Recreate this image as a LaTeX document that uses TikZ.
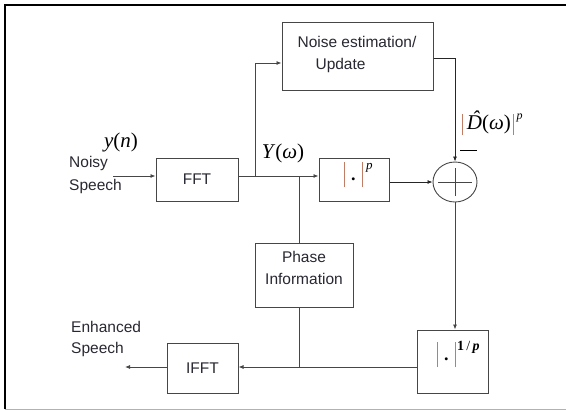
\documentclass[tikz,border=0pt]{standalone}
\usepackage{fontspec}
\setmainfont{Liberation Serif}
\setsansfont{Liberation Sans}
\usetikzlibrary{arrows.meta,shapes.geometric}
\definecolor{ln}{RGB}{70,70,70}
\definecolor{barc}{RGB}{190,125,100}
\definecolor{txt}{RGB}{40,40,50}
\tikzset{
  blk/.style={draw=ln, line width=1pt, fill=white, inner sep=0pt},
  lbl/.style={font=\sffamily\fontsize{15.5}{22}\selectfont, text=txt, inner sep=0pt},
  mth/.style={font=\fontsize{21}{24}\selectfont, text=black, inner sep=0pt},
  wire/.style={draw=ln, line width=0.8pt},
  arr/.style={wire, -{Latex[length=5pt,width=4pt]}},
}
\newcommand{\vbar}{\textcolor{barc}{\rule[-6pt]{0.9pt}{25pt}}}
\newcommand{\mydot}{\raisebox{1pt}{\fontsize{18}{18}\selectfont\textbf{.}}}
\begin{document}
\begin{tikzpicture}[x=1pt,y=-1pt]
\useasboundingbox (0,0) rectangle (566,410);
% frame
\draw[line width=2pt] (5,409) -- (5,5) -- (566,5);
\draw[gray!60, line width=1pt] (5,409) -- (566,409);
% blocks
\node[blk, minimum width=151pt, minimum height=68pt] (noise) at (357.5,56) {};
\node[lbl, align=left] (noisetxt) at (357,54) {Noise estimation/\\\hspace{18pt}Update};
\node[blk, lbl, minimum width=82pt, minimum height=43pt] (fft) at (197,179.5) {FFT};
\node[blk, minimum width=70pt, minimum height=43pt] (pw) at (354,179.5) {};
\node[inner sep=0pt, anchor=base west] (pwtxt) at (343.5,181) {\vbar\hspace{6.5pt}\mydot\hspace{6.5pt}\vbar\hspace{3pt}\raisebox{12pt}{\fontsize{13}{13}\selectfont\textit{p}}};
\node[draw=ln, line width=0.9pt, ellipse, minimum width=44pt, minimum height=40pt, inner sep=0pt] (sum) at (455,182) {};
\draw[ln, line width=0.8pt] ([xshift=-17pt]sum.center) -- ([xshift=17pt]sum.center);
\draw[ln, line width=0.8pt] ([yshift=-14pt]sum.center) -- ([yshift=14pt]sum.center);
\node[blk, minimum width=98pt, minimum height=64pt] (phase) at (304,275) {};
\node[lbl, align=center] (phasetxt) at (304,268) {Phase\\Information};
\node[blk, lbl, minimum width=71pt, minimum height=50pt] (ifft) at (202.5,368) {IFFT};
\node[blk, minimum width=71pt, minimum height=63pt] (inv) at (452.5,361.5) {};
\node[inner sep=0pt, anchor=base west] (invtxt) at (436.5,361) {\vbar\hspace{6.5pt}\mydot\hspace{6.5pt}\vbar\hspace{1pt}\raisebox{11pt}{\fontsize{14}{14}\selectfont\textbf{1}\,/\,\textbf{\textit{p}}}};
% labels
\node[mth] (yn) at (121,142) {\textit{y}(\textit{n})};
\node[lbl, align=left, anchor=west, font=\sffamily\fontsize{15.5}{23}\selectfont] (noisy) at (69,175) {Noisy\\Speech};
\node[mth] (Yw) at (283,153) {\textit{Y}(\textit{ω})};
\node[mth, anchor=west] (Dlbl) at (462,123) {\textcolor{barc}{\rule[-5pt]{0.7pt}{21pt}}\hspace{4pt}\textit{\accent"02C6 D}(\textit{ω})\hspace{2pt}\textcolor{barc}{\rule[-5pt]{0.7pt}{21pt}}\hspace{3pt}\raisebox{10pt}{\fontsize{12}{12}\selectfont\textit{p}}};
\node[inner sep=0pt] (minus) at (468.5,150) {\rule{17pt}{1pt}};
\node[lbl, align=left, anchor=west, font=\sffamily\fontsize{15.5}{21}\selectfont] (enh) at (71,338.5) {Enhanced\\Speech};
% coordinates
\coordinate (in) at (113,176);
\coordinate (j1) at (255,176);
\coordinate (j2) at (299,176);
\coordinate (j3) at (299,367);
\coordinate (out) at (125,367);
% connectors
\draw[arr] (in) -- (in -| fft.west);
\draw[wire] (in -| fft.east) -- (j2);
\draw[arr] (j2) -- (j2 -| pw.west);
\draw[arr] (j1) |- ([yshift=-7pt]noise.west);
\draw[arr, draw=black!85] ([yshift=-2pt]noise.east) -| (sum.north);
\draw[arr, draw=black!85] (pw.east |- sum) -- (sum.west);
\draw[wire] (j2) -- (j2 |- phase.north);
\draw[arr] (sum.south) -- (sum.south |- inv.north);
\draw[wire] (j3 |- phase.south) -- (j3);
\draw[arr] (inv.west |- j3) -- (ifft.east |- j3);
\draw[arr] (ifft.west |- j3) -- (out);
\end{tikzpicture}
\end{document}
